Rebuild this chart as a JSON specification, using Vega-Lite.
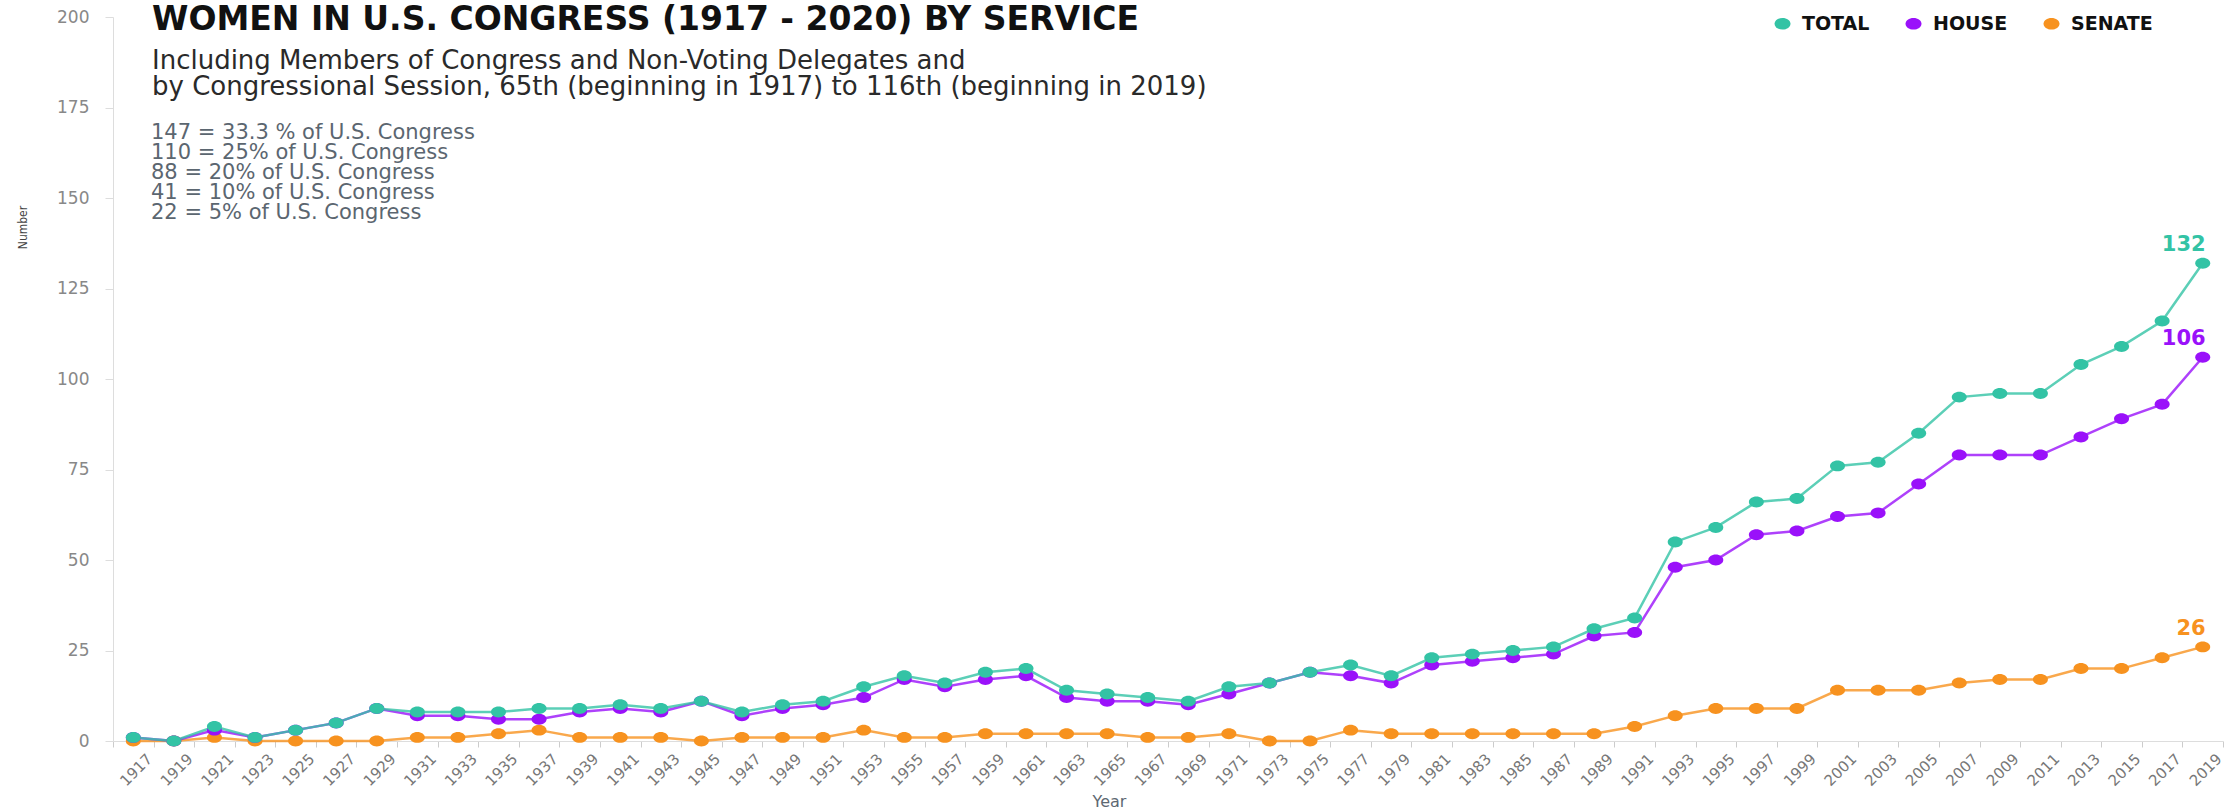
{
  "$schema": "https://vega.github.io/schema/vega-lite/v6.json",
  "width": 2110,
  "height": 724,
  "autosize": {"type": "none"},
  "padding": {"left": 113, "top": 17, "right": 1, "bottom": 69},
  "background": "white",
  "config": {"view": {"stroke": null}, "font": "DejaVu Sans"},
  "title": {
    "text": "WOMEN IN U.S. CONGRESS (1917 - 2020) BY SERVICE",
    "subtitle": ["Including Members of Congress and Non-Voting Delegates and", "by Congressional Session, 65th (beginning in 1917) to 116th (beginning in 2019)"],
    "anchor": "start",
    "frame": "group",
    "orient": "top",
    "offset": 0,
    "dx": 39,
    "dy": 92,
    "font": "DejaVu Sans",
    "fontSize": 33,
    "fontWeight": "bold",
    "color": "#111111",
    "subtitleFont": "DejaVu Sans",
    "subtitleFontSize": 26,
    "subtitleColor": "#2a2a2a",
    "subtitleLineHeight": 26,
    "subtitlePadding": 11
  },
  "data": {"values": [
    {"year":1917,"series":"SENATE","count":0},{"year":1919,"series":"SENATE","count":0},{"year":1921,"series":"SENATE","count":1},{"year":1923,"series":"SENATE","count":0},{"year":1925,"series":"SENATE","count":0},{"year":1927,"series":"SENATE","count":0},{"year":1929,"series":"SENATE","count":0},{"year":1931,"series":"SENATE","count":1},{"year":1933,"series":"SENATE","count":1},{"year":1935,"series":"SENATE","count":2},{"year":1937,"series":"SENATE","count":3},{"year":1939,"series":"SENATE","count":1},{"year":1941,"series":"SENATE","count":1},{"year":1943,"series":"SENATE","count":1},{"year":1945,"series":"SENATE","count":0},{"year":1947,"series":"SENATE","count":1},{"year":1949,"series":"SENATE","count":1},{"year":1951,"series":"SENATE","count":1},{"year":1953,"series":"SENATE","count":3},{"year":1955,"series":"SENATE","count":1},{"year":1957,"series":"SENATE","count":1},{"year":1959,"series":"SENATE","count":2},{"year":1961,"series":"SENATE","count":2},{"year":1963,"series":"SENATE","count":2},{"year":1965,"series":"SENATE","count":2},{"year":1967,"series":"SENATE","count":1},{"year":1969,"series":"SENATE","count":1},{"year":1971,"series":"SENATE","count":2},{"year":1973,"series":"SENATE","count":0},{"year":1975,"series":"SENATE","count":0},{"year":1977,"series":"SENATE","count":3},{"year":1979,"series":"SENATE","count":2},{"year":1981,"series":"SENATE","count":2},{"year":1983,"series":"SENATE","count":2},{"year":1985,"series":"SENATE","count":2},{"year":1987,"series":"SENATE","count":2},{"year":1989,"series":"SENATE","count":2},{"year":1991,"series":"SENATE","count":4},{"year":1993,"series":"SENATE","count":7},{"year":1995,"series":"SENATE","count":9},{"year":1997,"series":"SENATE","count":9},{"year":1999,"series":"SENATE","count":9},{"year":2001,"series":"SENATE","count":14},{"year":2003,"series":"SENATE","count":14},{"year":2005,"series":"SENATE","count":14},{"year":2007,"series":"SENATE","count":16},{"year":2009,"series":"SENATE","count":17},{"year":2011,"series":"SENATE","count":17},{"year":2013,"series":"SENATE","count":20},{"year":2015,"series":"SENATE","count":20},{"year":2017,"series":"SENATE","count":23},{"year":2019,"series":"SENATE","count":26},
    {"year":1917,"series":"HOUSE","count":1},{"year":1919,"series":"HOUSE","count":0},{"year":1921,"series":"HOUSE","count":3},{"year":1923,"series":"HOUSE","count":1},{"year":1925,"series":"HOUSE","count":3},{"year":1927,"series":"HOUSE","count":5},{"year":1929,"series":"HOUSE","count":9},{"year":1931,"series":"HOUSE","count":7},{"year":1933,"series":"HOUSE","count":7},{"year":1935,"series":"HOUSE","count":6},{"year":1937,"series":"HOUSE","count":6},{"year":1939,"series":"HOUSE","count":8},{"year":1941,"series":"HOUSE","count":9},{"year":1943,"series":"HOUSE","count":8},{"year":1945,"series":"HOUSE","count":11},{"year":1947,"series":"HOUSE","count":7},{"year":1949,"series":"HOUSE","count":9},{"year":1951,"series":"HOUSE","count":10},{"year":1953,"series":"HOUSE","count":12},{"year":1955,"series":"HOUSE","count":17},{"year":1957,"series":"HOUSE","count":15},{"year":1959,"series":"HOUSE","count":17},{"year":1961,"series":"HOUSE","count":18},{"year":1963,"series":"HOUSE","count":12},{"year":1965,"series":"HOUSE","count":11},{"year":1967,"series":"HOUSE","count":11},{"year":1969,"series":"HOUSE","count":10},{"year":1971,"series":"HOUSE","count":13},{"year":1973,"series":"HOUSE","count":16},{"year":1975,"series":"HOUSE","count":19},{"year":1977,"series":"HOUSE","count":18},{"year":1979,"series":"HOUSE","count":16},{"year":1981,"series":"HOUSE","count":21},{"year":1983,"series":"HOUSE","count":22},{"year":1985,"series":"HOUSE","count":23},{"year":1987,"series":"HOUSE","count":24},{"year":1989,"series":"HOUSE","count":29},{"year":1991,"series":"HOUSE","count":30},{"year":1993,"series":"HOUSE","count":48},{"year":1995,"series":"HOUSE","count":50},{"year":1997,"series":"HOUSE","count":57},{"year":1999,"series":"HOUSE","count":58},{"year":2001,"series":"HOUSE","count":62},{"year":2003,"series":"HOUSE","count":63},{"year":2005,"series":"HOUSE","count":71},{"year":2007,"series":"HOUSE","count":79},{"year":2009,"series":"HOUSE","count":79},{"year":2011,"series":"HOUSE","count":79},{"year":2013,"series":"HOUSE","count":84},{"year":2015,"series":"HOUSE","count":89},{"year":2017,"series":"HOUSE","count":93},{"year":2019,"series":"HOUSE","count":106},
    {"year":1917,"series":"TOTAL","count":1},{"year":1919,"series":"TOTAL","count":0},{"year":1921,"series":"TOTAL","count":4},{"year":1923,"series":"TOTAL","count":1},{"year":1925,"series":"TOTAL","count":3},{"year":1927,"series":"TOTAL","count":5},{"year":1929,"series":"TOTAL","count":9},{"year":1931,"series":"TOTAL","count":8},{"year":1933,"series":"TOTAL","count":8},{"year":1935,"series":"TOTAL","count":8},{"year":1937,"series":"TOTAL","count":9},{"year":1939,"series":"TOTAL","count":9},{"year":1941,"series":"TOTAL","count":10},{"year":1943,"series":"TOTAL","count":9},{"year":1945,"series":"TOTAL","count":11},{"year":1947,"series":"TOTAL","count":8},{"year":1949,"series":"TOTAL","count":10},{"year":1951,"series":"TOTAL","count":11},{"year":1953,"series":"TOTAL","count":15},{"year":1955,"series":"TOTAL","count":18},{"year":1957,"series":"TOTAL","count":16},{"year":1959,"series":"TOTAL","count":19},{"year":1961,"series":"TOTAL","count":20},{"year":1963,"series":"TOTAL","count":14},{"year":1965,"series":"TOTAL","count":13},{"year":1967,"series":"TOTAL","count":12},{"year":1969,"series":"TOTAL","count":11},{"year":1971,"series":"TOTAL","count":15},{"year":1973,"series":"TOTAL","count":16},{"year":1975,"series":"TOTAL","count":19},{"year":1977,"series":"TOTAL","count":21},{"year":1979,"series":"TOTAL","count":18},{"year":1981,"series":"TOTAL","count":23},{"year":1983,"series":"TOTAL","count":24},{"year":1985,"series":"TOTAL","count":25},{"year":1987,"series":"TOTAL","count":26},{"year":1989,"series":"TOTAL","count":31},{"year":1991,"series":"TOTAL","count":34},{"year":1993,"series":"TOTAL","count":55},{"year":1995,"series":"TOTAL","count":59},{"year":1997,"series":"TOTAL","count":66},{"year":1999,"series":"TOTAL","count":67},{"year":2001,"series":"TOTAL","count":76},{"year":2003,"series":"TOTAL","count":77},{"year":2005,"series":"TOTAL","count":85},{"year":2007,"series":"TOTAL","count":95},{"year":2009,"series":"TOTAL","count":96},{"year":2011,"series":"TOTAL","count":96},{"year":2013,"series":"TOTAL","count":104},{"year":2015,"series":"TOTAL","count":109},{"year":2017,"series":"TOTAL","count":116},{"year":2019,"series":"TOTAL","count":132}
  ]},
  "encoding": {
    "x": {
      "field": "year",
      "type": "ordinal",
      "scale": {"type": "band", "paddingInner": 0, "paddingOuter": 0},
      "axis": {
        "title": "Year",
        "labelAngle": -45,
        "labelOffset": 11,
        "tickBand": "extent",
        "grid": false,
        "domainColor": "#dddddd",
        "tickColor": "#cccccc",
        "tickSize": 6,
        "labelPadding": 4,
        "labelFont": "DejaVu Sans",
        "labelFontSize": 15,
        "labelColor": "#777777",
        "titleFont": "DejaVu Sans",
        "titleFontSize": 16,
        "titleFontWeight": "normal",
        "titleColor": "#5e6872",
        "titleX": 996,
        "titleY": 60,
        "titleAlign": "center",
        "titleBaseline": "middle"
      }
    },
    "y": {
      "field": "count",
      "type": "quantitative",
      "scale": {"domain": [0, 200], "nice": false},
      "axis": {
        "values": [0, 25, 50, 75, 100, 125, 150, 175, 200],
        "title": "Number",
        "grid": false,
        "domainColor": "#dddddd",
        "tickColor": "#dddddd",
        "tickSize": 8,
        "labelPadding": 16,
        "labelFont": "DejaVu Sans",
        "labelFontSize": 17,
        "labelColor": "#888888",
        "titleFont": "DejaVu Sans Condensed, Roboto, sans-serif",
        "titleFontSize": 12,
        "titleFontWeight": "normal",
        "titleColor": "#444444",
        "titleAngle": -90,
        "titleX": -91,
        "titleY": 210,
        "titleAlign": "center",
        "titleBaseline": "middle"
      }
    },
    "color": {
      "field": "series",
      "type": "nominal",
      "scale": {"domain": ["TOTAL", "HOUSE", "SENATE"], "range": ["#33c3a5", "#9a11fa", "#f7921f"]},
      "legend": {
        "title": null,
        "orient": "none",
        "legendX": 1660,
        "legendY": -3,
        "direction": "horizontal",
        "symbolType": "M-1,0A1,0.73,0,1,1,1,0A1,0.73,0,1,1,-1,0Z",
        "symbolSize": 256,
        "symbolStrokeWidth": 0,
        "symbolOpacity": 1,
        "labelFont": "DejaVu Sans",
        "labelFontWeight": "bold",
        "labelFontSize": 19,
        "labelColor": "#111111",
        "labelOffset": 10,
        "columnPadding": 34,
        "encode": {
          "symbols": {
            "update": {
              "fill": {"scale": "color", "field": "value"},
              "stroke": {"value": "transparent"},
              "opacity": {"value": 1}
            }
          }
        }
      }
    }
  },
  "layer": [
    {
      "mark": {"type": "line", "strokeWidth": 2.5, "opacity": 0.8}
    },
    {
      "mark": {"type": "point", "filled": true, "opacity": 1, "size": 225, "shape": "M-1,0A1,0.73,0,1,1,1,0A1,0.73,0,1,1,-1,0Z"}
    },
    {
      "transform": [{"filter": "datum.year == 2019"}],
      "mark": {"type": "text", "align": "right", "baseline": "bottom", "dx": 3, "dy": -8, "fontSize": 21, "fontWeight": "bold", "font": "DejaVu Sans"},
      "encoding": {"text": {"field": "count", "type": "quantitative"}}
    },
    {
      "transform": [{"filter": "datum.year == 1917 && datum.series == 'TOTAL'"}],
      "mark": {
        "type": "text",
        "align": "left",
        "baseline": "middle",
        "dx": 38,
        "lineHeight": 20,
        "fontSize": 21,
        "font": "DejaVu Sans",
        "color": "#5b6670",
        "text": ["147 = 33.3 % of U.S. Congress", "110 = 25% of U.S. Congress", "88 = 20% of U.S. Congress", "41 = 10% of U.S. Congress", "22 = 5% of U.S. Congress"]
      },
      "encoding": {
        "x": {"field": "year", "type": "ordinal", "bandPosition": 0},
        "y": {"datum": 168},
        "color": {"value": "#5b6670"}
      }
    }
  ]
}
